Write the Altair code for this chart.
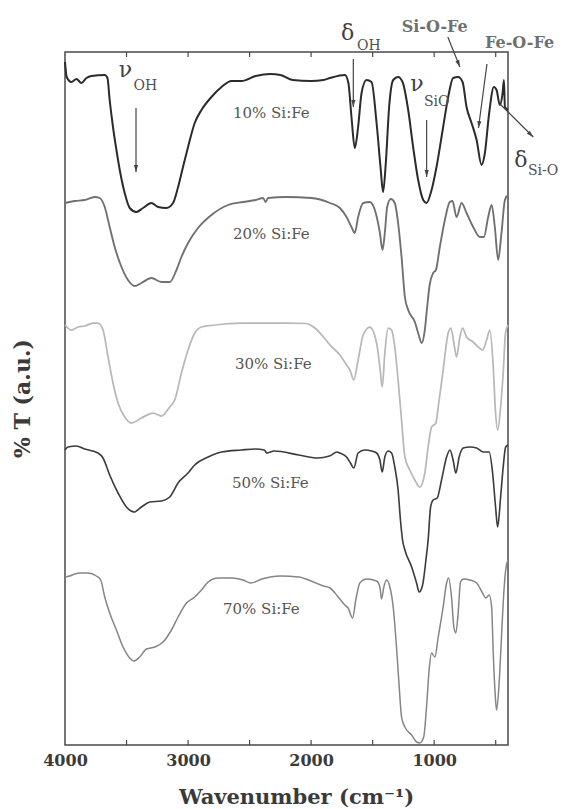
import math
import altair as alt
import pandas as pd

# ---------------- data ----------------
series_names = ["10% Si:Fe", "20% Si:Fe", "30% Si:Fe", "50% Si:Fe", "70% Si:Fe"]
line_colors = ["#2b2b2b", "#707070", "#b8b8b8", "#3c3c3c", "#858585"]
line_widths = [2.0, 1.5, 1.5, 1.7, 1.5]

wn_10 = [4000, 3986, 3948, 3907, 3867, 3826, 3785, 3677, 3655, 3637, 3610, 3582, 3555, 3515, 3474, 3420, 3366, 3298, 3243, 3176,
         3122, 3081, 3041, 3000, 2946, 2891, 2810, 2728, 2647, 2566, 2450, 2330, 2250, 2150, 2000, 1900, 1847, 1725, 1697, 1672,
         1645, 1618, 1590, 1550, 1509, 1468, 1436, 1415, 1393, 1366, 1333, 1293, 1257, 1211, 1171, 1130, 1089, 1062, 1021, 981,
         927, 886, 846, 805, 769, 737, 696, 655, 615, 588, 553, 515, 493, 466, 444, 433, 425, 400]
t_10 = [683, 668, 663, 666, 662, 667, 669, 670, 667, 645, 618, 595, 575, 552, 537, 533, 537, 542, 538, 537,
        542, 558, 578, 598, 622, 635, 648, 658, 664, 664, 669, 671, 670, 665, 664, 665, 667, 670, 662, 628,
        597, 618, 652, 665, 663, 622, 578, 553, 582, 638, 665, 668, 663, 635, 598, 565, 545, 542, 555, 578,
        618, 648, 667, 668, 663, 638, 622, 605, 580, 592, 632, 658, 655, 640, 652, 665, 638, 635]

wn_20 = [4000, 3921, 3840, 3759, 3718, 3677, 3637, 3596, 3541, 3488, 3433, 3379, 3298, 3216, 3149, 3094, 3054, 3000, 2919, 2810,
         2675, 2553, 2450, 2390, 2370, 2350, 2200, 2000, 1847, 1766, 1712, 1672, 1645, 1618, 1577, 1523, 1482, 1441, 1420, 1401,
         1382, 1352, 1320, 1293, 1265, 1238, 1211, 1157, 1130, 1102, 1076, 1057, 1037, 1008, 986, 954, 913, 873, 851, 818,
         777, 737, 683, 628, 596, 561, 533, 507, 480, 453, 425, 400]
t_20 = [542, 544, 545, 548, 547, 538, 518, 498, 478, 465, 459, 462, 467, 463, 463, 475, 488, 502, 517, 530,
        540, 543, 545, 547, 543, 547, 548, 547, 542, 537, 528, 518, 512, 528, 542, 543, 535, 512, 495, 512,
        538, 546, 542, 522, 488, 448, 435, 423, 412, 402, 415, 438, 460, 472, 475, 498, 525, 543, 544, 528,
        542, 532, 518, 508, 508, 528, 540, 518, 485, 512, 545, 550]

wn_30 = [4000, 3948, 3894, 3840, 3772, 3732, 3691, 3650, 3610, 3569, 3515, 3460, 3379, 3284, 3216, 3149, 3108, 3054, 3000, 2946,
         2891, 2783, 2566, 2400, 2200, 2040, 2000, 1960, 1900, 1847, 1766, 1712, 1685, 1653, 1618, 1577, 1523, 1468, 1441, 1422,
         1401, 1374, 1346, 1320, 1293, 1265, 1238, 1198, 1157, 1117, 1076, 1049, 1021, 986, 967, 927, 886, 864, 840, 818,
         791, 769, 737, 683, 642, 607, 574, 547, 520, 501, 484, 460, 439, 420, 400]
t_30 = [420, 415, 418, 419, 422, 422, 415, 388, 362, 342, 328, 322, 327, 332, 329, 338, 345, 372, 395, 412,
        418, 420, 422, 422, 422, 421.5, 419.5, 416, 408, 400, 390, 380, 375, 365, 385, 410, 418, 402, 378, 358,
        392, 417, 415, 398, 365, 325, 288, 275, 265, 258, 272, 298, 318, 322, 338, 375, 412, 417, 402, 388,
        408, 417, 408, 403, 398, 395, 405, 415, 378, 332, 315, 338, 372, 412, 420]

wn_50 = [4000, 3976, 3907, 3840, 3732, 3691, 3637, 3569, 3501, 3439, 3379, 3311, 3216, 3149, 3081, 3000, 2946, 2837, 2728, 2566,
         2450, 2380, 2360, 2300, 2100, 1950, 1850, 1790, 1766, 1712, 1680, 1653, 1618, 1564, 1509, 1468, 1441, 1422, 1401, 1374,
         1346, 1320, 1293, 1274, 1257, 1238, 1183, 1143, 1122, 1094, 1067, 1049, 1029, 1008, 975, 940, 899, 872, 846, 824,
         797, 764, 710, 655, 601, 553, 525, 501, 484, 460, 439, 419, 400]
t_50 = [295, 298, 299, 296, 292, 287, 270, 252, 238, 233, 238, 243, 244, 248, 262, 272, 280, 288, 293, 295,
        296, 295, 292, 294, 290, 287, 289, 293, 292, 288, 282, 277, 292, 295, 294, 292, 285, 273, 288, 294,
        292, 278, 255, 225, 205, 195, 178, 162, 153, 160, 185, 205, 238, 245, 247, 265, 288, 295, 285, 272,
        288, 297, 298, 297, 293, 293, 272, 238, 218, 248, 278, 298, 300]

wn_70 = [4000, 3962, 3921, 3880, 3813, 3745, 3710, 3677, 3637, 3582, 3528, 3474, 3441, 3393, 3338, 3271, 3203, 3135, 3081, 3013,
         2946, 2891, 2837, 2756, 2647, 2553, 2490, 2400, 2250, 2100, 2000, 1900, 1847, 1780, 1726, 1699, 1663, 1637, 1604, 1550,
         1468, 1441, 1428, 1409, 1387, 1360, 1333, 1306, 1284, 1265, 1238, 1183, 1143, 1117, 1085, 1062, 1041, 1021, 994, 967,
         927, 899, 883, 859, 840, 824, 805, 786, 764, 710, 655, 607, 580, 553, 533, 520, 501, 493, 474, 453,
         439, 419, 400]
t_70 = [168, 169, 171, 172, 172, 169, 165, 148, 132, 115, 98, 87, 84, 88, 96, 98, 103, 115, 128, 142,
        148, 155, 163, 167, 167, 165, 162, 166, 169, 168, 164, 159, 157, 148, 140, 137, 127, 145, 162, 166,
        164, 158, 146, 158, 165, 158, 138, 98, 58, 28, 18, 10, 3, 2, 8, 38, 75, 92, 88, 108,
        138, 162, 167, 148, 118, 112, 132, 163, 166, 165, 162, 152, 147, 150, 138, 92, 45, 35, 58, 108,
        142, 175, 185]

# sample labels
label_wn = [2635, 2635, 2619, 2643, 2716]
label_t = [632.5, 511, 381, 262.5, 136]

# band annotations
greek_text = ["ν", "δ", "ν", "δ"]
greek_wn = [3508, 1704, 1140, 295]
greek_t = [668, 705.5, 654, 578]
sub_text = ["OH", "OH", "SiO", "Si-O"]
sub_wn = [3443, 1627, 1083, 238]
sub_t = [655, 695, 639, 570]
bond_text = ["Si-O-Fe", "Fe-O-Fe"]
bond_wn = [1264, 587]
bond_t = [713, 697]

# arrows: start -> tip
arrow_wn1 = [3423, 1657, 889, 571, 1061, 465]
arrow_t1 = [637, 686, 708, 681, 625, 641]
arrow_wn2 = [3423, 1657, 791, 640, 1061, 195]
arrow_t2 = [573, 638, 678, 617, 568, 608]

tick_wn = [3500, 3000, 2500, 2000, 1500, 1000, 500]
axis_label_values = [4000, 3000, 2000, 1000]

# ---------------- layout ----------------
W, H = 443, 693
X_DOMAIN = [4000, 400]
Y_DOMAIN = [0, 693]
FONT = "DejaVu Serif"

rows = []
for name, wns, ts in zip(series_names,
                         [wn_10, wn_20, wn_30, wn_50, wn_70],
                         [t_10, t_20, t_30, t_50, t_70]):
    for i, (w, t) in enumerate(zip(wns, ts)):
        rows.append({"series": name, "wn": w, "t": t, "i": i})
spectra = pd.DataFrame(rows)

labels_df = pd.DataFrame({"text": series_names, "wn": label_wn, "t": label_t})
greek_df = pd.DataFrame({"text": greek_text, "wn": greek_wn, "t": greek_t})
sub_df = pd.DataFrame({"text": sub_text, "wn": sub_wn, "t": sub_t})
bond_df = pd.DataFrame({"text": bond_text, "wn": bond_wn, "t": bond_t})

px_per_wn = W / (X_DOMAIN[0] - X_DOMAIN[1])
px_per_t = H / (Y_DOMAIN[1] - Y_DOMAIN[0])
angles = []
for a, b, c, d in zip(arrow_wn1, arrow_t1, arrow_wn2, arrow_t2):
    dx = -(c - a) * px_per_wn
    dy = -(d - b) * px_per_t
    angles.append(math.degrees(math.atan2(-dx, dy)) % 360)
arrows_df = pd.DataFrame({"wn": arrow_wn1, "t": arrow_t1, "wn2": arrow_wn2,
                          "t2": arrow_t2, "ang": angles})
ticks_df = pd.DataFrame({"wn": tick_wn})

x_scale = alt.Scale(domain=X_DOMAIN, nice=False, zero=False)
y_scale = alt.Scale(domain=Y_DOMAIN, nice=False, zero=False)
x_axis = alt.Axis(values=axis_label_values, format="d", ticks=False, domain=False, grid=False,
                  labelFlush=False, labelOverlap=False,
                  labelFont=FONT, labelFontWeight="bold", labelFontSize=16, labelColor="#3a3a3a",
                  labelPadding=7,
                  title="Wavenumber (cm⁻¹)", titleFont=FONT, titleFontWeight="bold",
                  titleFontSize=21, titleColor="#3a3a3a", titleX=231, titleY=52,
                  titleBaseline="middle", titleAlign="center")
y_axis = alt.Axis(labels=False, ticks=False, domain=False, grid=False,
                  title="% T (a.u.)", titleFont=FONT, titleFontWeight="bold",
                  titleFontSize=22, titleColor="#3a3a3a", titleX=-43, titleY=346,
                  titleBaseline="middle", titleAlign="center")


def X(field="wn"):
    return alt.X(f"{field}:Q", scale=x_scale, axis=x_axis)


def Y(field="t"):
    return alt.Y(f"{field}:Q", scale=y_scale, axis=y_axis)


lines = alt.Chart(spectra).mark_line(interpolate="monotone").encode(
    x=X(), y=Y(),
    color=alt.Color("series:N", scale=alt.Scale(domain=series_names, range=line_colors), legend=None),
    strokeWidth=alt.StrokeWidth("series:N", scale=alt.Scale(domain=series_names, range=line_widths), legend=None),
    order="i:Q",
)

ticks_top = alt.Chart(ticks_df).mark_rule(color="#4a4a4a", strokeWidth=1.2).encode(
    x=X(), y=alt.value(0), y2=alt.value(5))
ticks_bottom = alt.Chart(ticks_df).mark_rule(color="#4a4a4a", strokeWidth=1.2).encode(
    x=X(), y=alt.value(H), y2=alt.value(H - 5))

shafts = alt.Chart(arrows_df).mark_rule(color="#444444", strokeWidth=1.2).encode(
    x=X(), y=Y(), x2="wn2:Q", y2="t2:Q")
heads = alt.Chart(arrows_df).mark_point(
    shape="M0,0 L-0.7,-2.3 L0.7,-2.3 Z", filled=True, color="#444444", opacity=1, size=36
).encode(x=X("wn2"), y=Y("t2"), angle=alt.Angle("ang:Q", scale=None))

sample_labels = alt.Chart(labels_df).mark_text(
    align="left", baseline="middle", font=FONT, fontSize=15, color="#555555"
).encode(x=X(), y=Y(), text="text:N")

greek = alt.Chart(greek_df).mark_text(
    align="center", baseline="alphabetic", font=FONT, fontSize=22, color="#404040"
).encode(x=X(), y=Y(), text="text:N")

subs = alt.Chart(sub_df).mark_text(
    align="left", baseline="alphabetic", font=FONT, fontSize=14, color="#505050"
).encode(x=X(), y=Y(), text="text:N")

bonds = alt.Chart(bond_df).mark_text(
    align="left", baseline="alphabetic", font=FONT, fontSize=16, fontWeight="bold", color="#707070"
).encode(x=X(), y=Y(), text="text:N")

chart = alt.layer(
    lines, ticks_top, ticks_bottom, shafts, heads, sample_labels, greek, subs, bonds
).properties(
    width=W, height=H,
    padding={"left": 65, "top": 52, "right": 55, "bottom": 64},
    autosize=alt.AutoSizeParams(type="none"),
    background="white",
).configure_view(stroke="#4a4a4a", strokeWidth=1.5)

chart.save("out.html", embed_options={"renderer": "svg", "actions": False})
